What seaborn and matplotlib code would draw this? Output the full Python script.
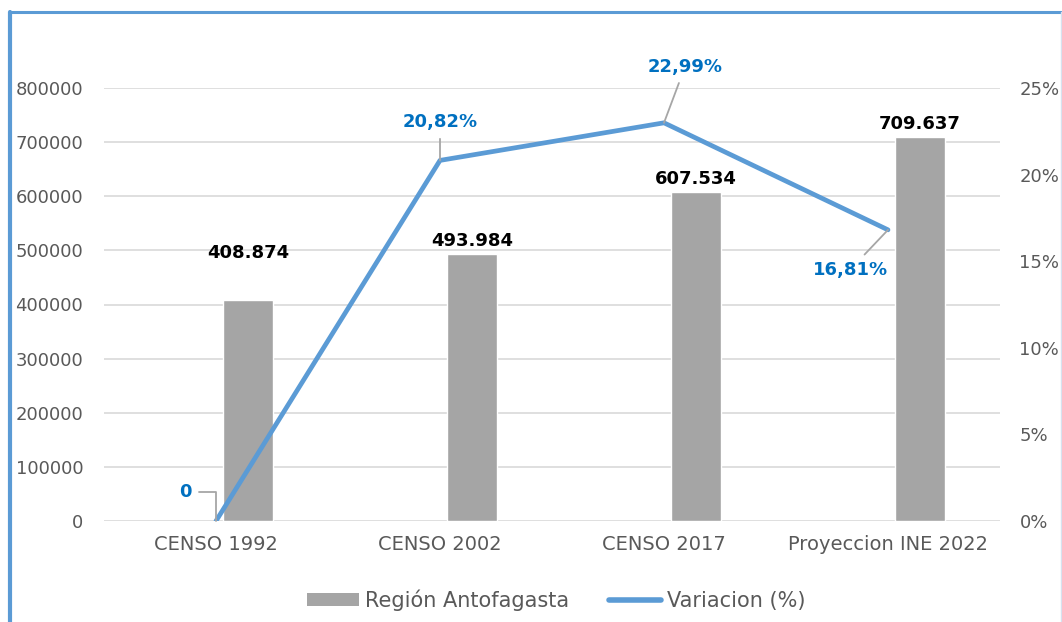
import matplotlib
matplotlib.use('Agg')
import matplotlib.pyplot as plt
from matplotlib.patches import Patch
from matplotlib.lines import Line2D
from matplotlib.ticker import FuncFormatter
import seaborn as sns

categorias = ['CENSO 1992', 'CENSO 2002', 'CENSO 2017', 'Proyeccion INE 2022']
poblacion = [408874, 493984, 607534, 709637]
variacion = [0, 20.82, 22.99, 16.81]
etiquetas_pob = ['408.874', '493.984', '607.534', '709.637']
etiquetas_var = ['0', '20,82%', '22,99%', '16,81%']

GRIS = '#A5A5A5'
AZUL = '#5B9BD5'
AZUL_TXT = '#0070C0'
TXT = '#595959'

sns.set_theme(style='white')
plt.rcParams['font.family'] = ['DejaVu Sans']

fig = plt.figure(figsize=(10.62, 6.22), dpi=100)
ax = fig.add_axes([104 / 1062, 1 - 521 / 622, 896 / 1062, 433 / 622])

idx = list(range(len(categorias)))
pos_barras = [i + 0.142 for i in idx]
sns.barplot(x=pos_barras, y=poblacion, native_scale=True, width=0.222,
            color=GRIS, saturation=1, ax=ax, zorder=2)
ax.set_xlim(-0.5, 3.5)
ax.set_ylim(0, 800000)
ax.set_yticks(range(0, 800001, 100000))
ax.set_xticks(idx)
ax.set_xticklabels(categorias)
ax.grid(axis='y', color='#D9D9D9', linewidth=1.2, zorder=0)
ax.grid(axis='x', visible=False)
ax.tick_params(axis='both', length=0, labelcolor=TXT)
ax.tick_params(axis='x', pad=10, labelsize=14)
ax.tick_params(axis='y', pad=15, labelsize=13)
for s in ax.spines.values():
    s.set_visible(False)
ax.set_xlabel('')
ax.set_ylabel('')

# etiquetas de barras
offs = [47, 13, 13, 13]
for p, v, t, o in zip(pos_barras, poblacion, etiquetas_pob, offs):
    ax.annotate(t, xy=(p, v), xytext=(0, o), textcoords='offset pixels',
                ha='center', va='center', fontsize=13, fontweight='bold', color='black')

ax2 = ax.twinx()
sns.lineplot(x=idx, y=variacion, ax=ax2, color=AZUL, linewidth=3.4,
             solid_capstyle='round', solid_joinstyle='round')
ax2.set_ylim(0, 25)
ax2.set_yticks(range(0, 26, 5))
ax2.yaxis.set_major_formatter(FuncFormatter(lambda v, p: '%d%%' % v))
ax2.tick_params(axis='y', length=0, labelsize=13, labelcolor=TXT, pad=14)
for s in ax2.spines.values():
    s.set_visible(False)
ax2.set_ylabel('')
ax2.grid(False)

# etiquetas de la linea con lineas guia
desp = [(-31, 29), (0, 38), (21, 56), (-38, -40)]
conn = ['angle,angleA=0,angleB=90,rad=0', 'arc3', 'arc3', 'arc3']
for i, (v, t, d, c) in enumerate(zip(variacion, etiquetas_var, desp, conn)):
    ax2.annotate(t, xy=(idx[i], v), xytext=d, textcoords='offset pixels',
                 ha='center', va='center', fontsize=13, fontweight='bold', color=AZUL_TXT,
                 arrowprops=dict(arrowstyle='-', color='#A6A6A6', lw=1.3,
                                 connectionstyle=c, shrinkA=3, shrinkB=0))

# leyenda
handles = [Patch(facecolor=GRIS, edgecolor='none'),
           Line2D([0], [0], color=AZUL, lw=4, solid_capstyle='round')]
fig.legend(handles, ['Región Antofagasta', 'Variacion (%)'], loc='center',
           bbox_to_anchor=(556 / 1062, 1 - 600 / 622), bbox_transform=fig.transFigure,
           ncol=2, frameon=False, fontsize=15, handlelength=2.5, handleheight=0.55,
           handletextpad=0.3, columnspacing=1.9, labelcolor=TXT)

# borde del grafico
fig.add_artist(Line2D([10 / 1062, 10 / 1062], [0, 1 - 12 / 622], color=AZUL, lw=3,
                      transform=fig.transFigure))
fig.add_artist(Line2D([10 / 1062, 1061 / 1062], [1 - 12 / 622, 1 - 12 / 622], color=AZUL,
                      lw=2.2, transform=fig.transFigure))
fig.add_artist(Line2D([1061 / 1062, 1061 / 1062], [0, 1 - 12 / 622], color='#D6E2F0', lw=1,
                      transform=fig.transFigure))

fig.savefig('out.png', dpi=100)
